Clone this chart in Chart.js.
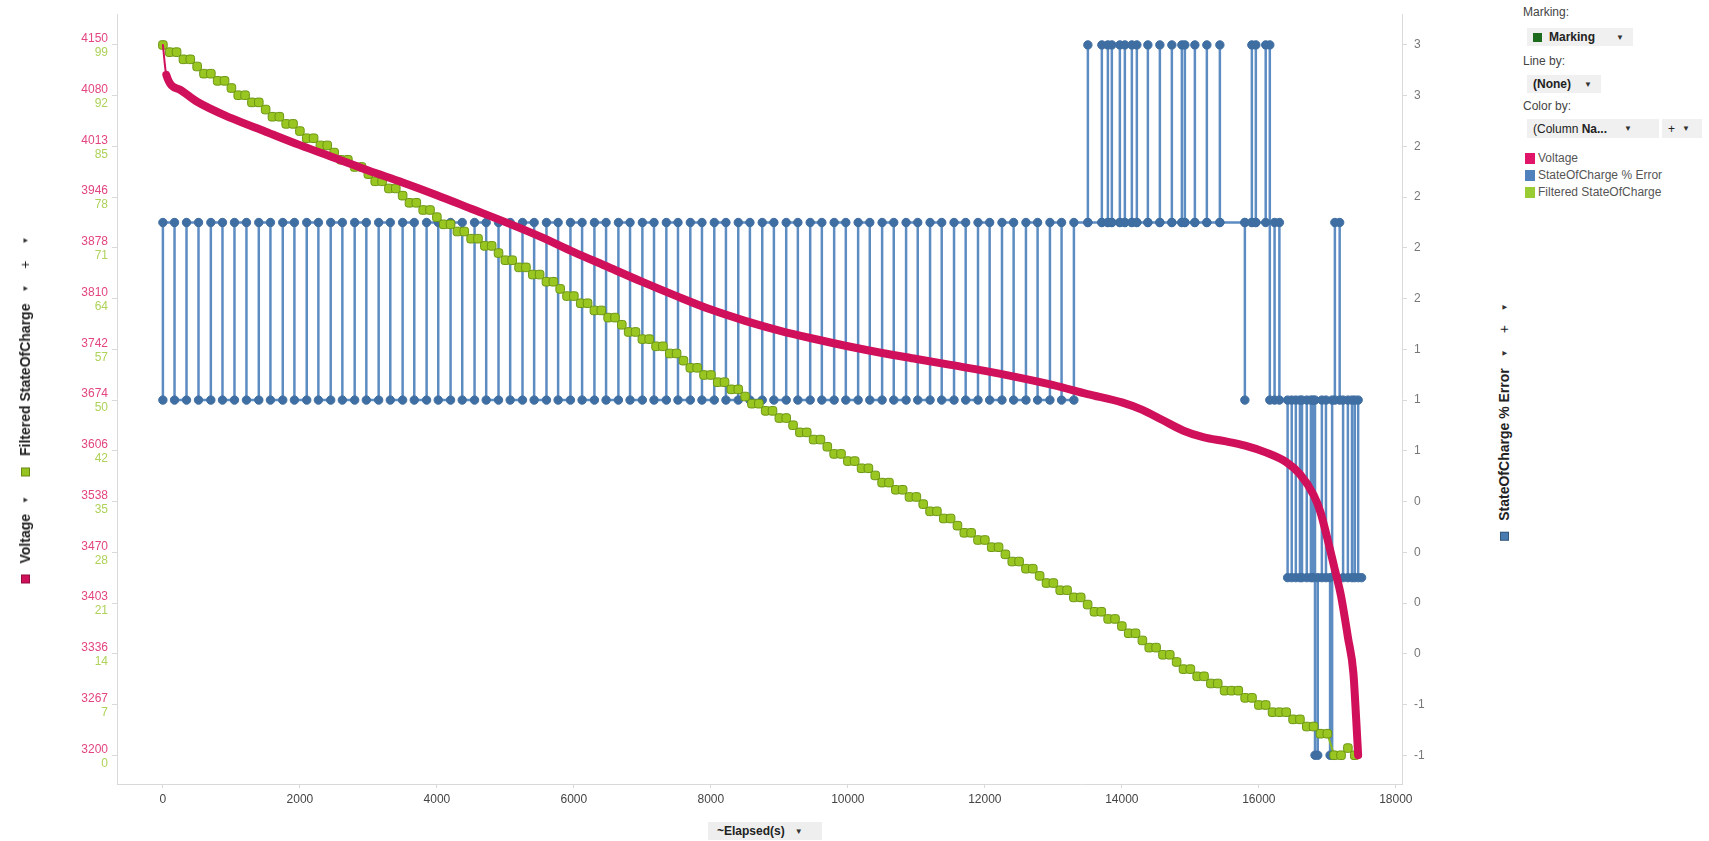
<!DOCTYPE html>
<html>
<head>
<meta charset="utf-8">
<script src="https://cdn.jsdelivr.net/npm/chart.js@4.4.1/dist/chart.umd.min.js"></script>
<style>
  html, body { margin: 0; padding: 0; background: #fff; width: 1709px; height: 841px; overflow: hidden;
    font-family: "Liberation Sans", Arial, sans-serif; }
  #wrap { position: absolute; left: 0; top: 0; width: 1460px; height: 841px; }
  .vlabel { position: absolute; transform: translate(-50%, -50%) rotate(-90deg); white-space: nowrap;
    font-size: 14px; font-weight: bold; color: #222; display: flex; align-items: center; }
  .vlabel > span { margin-right: 11px; }
  .sq { display: inline-block; width: 9px; height: 9px; box-sizing: border-box; border: 1px solid rgba(0,0,0,0.3); }
  .arr { font-size: 8px; font-weight: normal; color: #333; }
  .ptext { position: absolute; font-size: 12px; color: #444; }
  .btn { position: absolute; background: #f0f0f0; font-size: 12px; color: #222; display: flex;
    align-items: center; gap: 7px; padding-left: 6px; box-sizing: border-box; }
  .leg { position: absolute; left: 1525px; font-size: 12px; color: #555; display: flex; align-items: center; gap: 3px; }
  .leg .sq { width: 10px; height: 11px; border: none; }
  #xtitle { position: absolute; left: 708px; top: 822px; width: 114px; height: 18px; background: #eeeeee;
    font-size: 12px; font-weight: bold; color: #222; display: flex; align-items: center; gap: 10px;
    padding-left: 9px; box-sizing: border-box; }
</style>
</head>
<body>
<div id="wrap"><canvas id="chart"></canvas></div>

<div class="vlabel" style="left:25px; top:410px;">
  <span class="sq" style="background:#d0105a"></span><span style="margin-right:10px">Voltage</span><span class="arr" style="margin-right:20px">▼</span>
  <span class="sq" style="background:#96c31f"></span><span>Filtered StateOfCharge</span><span class="arr" style="margin-right:16px">▼</span>
  <span style="font-weight:normal; margin-right:16px">+</span><span class="arr" style="margin-right:0">▼</span>
</div>
<div class="vlabel" style="left:1504px; top:422px;">
  <span class="sq" style="background:#4a7bb0"></span><span>StateOfCharge % Error</span><span class="arr" style="margin-right:16px">▼</span>
  <span style="font-weight:normal; margin-right:14px">+</span><span class="arr" style="margin-right:0">▼</span>
</div>
<div id="xtitle"><span>~Elapsed(s)</span><span class="arr">▼</span></div>

<div class="ptext" style="left:1523px; top:5px;">Marking:</div>
<div class="btn" style="left:1527px; top:28px; width:106px; height:18px;">
  <span class="sq" style="background:#1d6b1d; border:none"></span><b>Marking</b><span class="arr" style="margin-left:14px">▼</span>
</div>
<div class="ptext" style="left:1523px; top:54px;">Line by:</div>
<div class="btn" style="left:1527px; top:75px; width:74px; height:18px;"><b>(None)</b><span class="arr" style="margin-left:6px">▼</span></div>
<div class="ptext" style="left:1523px; top:99px;">Color by:</div>
<div class="btn" style="left:1527px; top:119px; width:132px; height:19px;">
  <span>(Column <b>Na...</b></span><span class="arr" style="margin-left:10px">▼</span>
</div>
<div class="btn" style="left:1662px; top:119px; width:40px; height:19px;"><span>+</span><span class="arr">▼</span></div>
<div class="leg" style="top:151px;"><span class="sq" style="background:#e0156a"></span>Voltage</div>
<div class="leg" style="top:168px;"><span class="sq" style="background:#4f81bd"></span>StateOfCharge % Error</div>
<div class="leg" style="top:185px;"><span class="sq" style="background:#99cc33"></span>Filtered StateOfCharge</div>

<script>
// axis ticks
const xTicks = [0, 2000, 4000, 6000, 8000, 10000, 12000, 14000, 16000, 18000];
const voltTickLabels = ['4150', '4080', '4013', '3946', '3878', '3810', '3742', '3674', '3606', '3538', '3470', '3403', '3336', '3267', '3200'];
const socTickLabels = ['99', '92', '85', '78', '71', '64', '57', '50', '42', '35', '28', '21', '14', '7', '0'];
const errTickLabels = ['3', '3', '2', '2', '2', '2', '1', '1', '1', '0', '0', '0', '0', '-1', '-1'];

// Voltage
const voltTime = [0, 50, 250, 500, 1000, 1500, 2000, 2500, 3000, 3500, 4000, 4500, 5000, 5500, 6000, 6500, 7000, 7500,
  8000, 8500, 9000, 9500, 10000, 10500, 11000, 11500, 12000, 12500, 13000, 13500, 14000, 14300, 14600, 14900, 15200,
  15500, 15800, 16100, 16400, 16600, 16800, 16900, 17000, 17100, 17200, 17300, 17380, 17420, 17450];
const voltValue = [4150, 4110, 4090, 4074, 4052, 4034, 4016, 3999, 3982, 3966, 3949, 3931, 3913, 3894, 3873, 3853, 3833, 3814,
  3796, 3781, 3768, 3757, 3747, 3738, 3730, 3722, 3714, 3705, 3695, 3683, 3672, 3662, 3648, 3634, 3625,
  3620, 3614, 3605, 3592, 3576, 3548, 3525, 3490, 3452, 3413, 3358, 3310, 3250, 3200];

// Filtered StateOfCharge
const socTime = [0, 100, 200, 300, 400, 500, 600, 700, 800, 900, 1000, 1100, 1200, 1300, 1400, 1500, 1600, 1700, 1800, 1900,
  2000, 2100, 2200, 2300, 2400, 2500, 2600, 2700, 2800, 2900, 3000, 3100, 3200, 3300, 3400, 3500, 3600, 3700, 3800, 3900,
  4000, 4100, 4200, 4300, 4400, 4500, 4600, 4700, 4800, 4900, 5000, 5100, 5200, 5300, 5400, 5500, 5600, 5700, 5800, 5900,
  6000, 6100, 6200, 6300, 6400, 6500, 6600, 6700, 6800, 6900, 7000, 7100, 7200, 7300, 7400, 7500, 7600, 7700, 7800, 7900,
  8000, 8100, 8200, 8300, 8400, 8500, 8600, 8700, 8800, 8900, 9000, 9100, 9200, 9300, 9400, 9500, 9600, 9700, 9800, 9900,
  10000, 10100, 10200, 10300, 10400, 10500, 10600, 10700, 10800, 10900, 11000, 11100, 11200, 11300, 11400, 11500, 11600, 11700, 11800, 11900,
  12000, 12100, 12200, 12300, 12400, 12500, 12600, 12700, 12800, 12900, 13000, 13100, 13200, 13300, 13400, 13500, 13600, 13700, 13800, 13900,
  14000, 14100, 14200, 14300, 14400, 14500, 14600, 14700, 14800, 14900, 15000, 15100, 15200, 15300, 15400, 15500, 15600, 15700, 15800, 15900,
  16000, 16100, 16200, 16300, 16400, 16500, 16600, 16700, 16800, 16900, 17000, 17100, 17200, 17300, 17400];
const socValue = [99, 98, 98, 97, 97, 96, 95, 95, 94, 94, 93, 92, 92, 91, 91, 90, 89, 89, 88, 88,
  87, 86, 86, 85, 85, 84, 83, 83, 82, 82, 81, 80, 80, 79, 79, 78, 77, 77, 76, 76,
  75, 74, 74, 73, 73, 72, 72, 71, 71, 70, 69, 69, 68, 68, 67, 67, 66, 66, 65, 64,
  64, 63, 63, 62, 62, 61, 61, 60, 59, 59, 58, 58, 57, 57, 56, 56, 55, 54, 54, 53,
  53, 52, 52, 51, 51, 50, 49, 49, 48, 48, 47, 47, 46, 45, 45, 44, 44, 43, 42, 42,
  41, 41, 40, 40, 39, 38, 38, 37, 37, 36, 36, 35, 34, 34, 33, 33, 32, 31, 31, 30,
  30, 29, 29, 28, 27, 27, 26, 26, 25, 24, 24, 23, 23, 22, 22, 21, 20, 20, 19, 19,
  18, 17, 17, 16, 15, 15, 14, 14, 13, 12, 12, 11, 11, 10, 10, 9, 9, 9, 8, 8,
  7, 7, 6, 6, 6, 5, 5, 4, 4, 3, 3, 0, 0, 1, 0];

// StateOfCharge % Error
const errTime = [0, 0, 170, 170, 345, 345, 520, 520, 700, 700, 870, 870, 1045, 1045, 1220, 1220, 1400, 1400, 1570, 1570,
  1750, 1750, 1920, 1920, 2100, 2100, 2270, 2270, 2450, 2450, 2620, 2620, 2800, 2800, 2970, 2970, 3150, 3150, 3320, 3320,
  3500, 3500, 3670, 3670, 3850, 3850, 4020, 4020, 4200, 4200, 4370, 4370, 4550, 4550, 4720, 4720, 4900, 4900, 5070, 5070,
  5250, 5250, 5420, 5420, 5600, 5600, 5770, 5770, 5950, 5950, 6120, 6120, 6300, 6300, 6470, 6470, 6650, 6650, 6820, 6820,
  7000, 7000, 7170, 7170, 7350, 7350, 7520, 7520, 7700, 7700, 7870, 7870, 8050, 8050, 8220, 8220, 8400, 8400, 8570, 8570,
  8750, 8750, 8920, 8920, 9100, 9100, 9270, 9270, 9450, 9450, 9620, 9620, 9800, 9800, 9970, 9970, 10150, 10150, 10320, 10320,
  10500, 10500, 10670, 10670, 10850, 10850, 11020, 11020, 11200, 11200, 11370, 11370, 11550, 11550, 11720, 11720, 11900, 11900, 12070, 12070,
  12250, 12250, 12420, 12420, 12600, 12600, 12770, 12770, 12950, 12950, 13120, 13120, 13300, 13300,
  13504, 13504, 13504, 13708, 13708, 13708, 13796, 13796, 13796, 13854, 13854, 13854, 13971, 13971, 13971,
  14044, 14044, 14044, 14146, 14146, 14146, 14219, 14219, 14219, 14380, 14380, 14380, 14555, 14555, 14555,
  14730, 14730, 14730, 14876, 14876, 14876, 14920, 14920, 14920, 15066, 15066, 15066, 15241, 15241, 15241,
  15431, 15431, 15431, 15796, 15796, 15796, 15898, 15898, 15898, 15956, 15956, 15956,
  16100, 16100, 16160, 16160, 16230, 16230, 16300, 16300,
  16420, 16420, 16480, 16480, 16540, 16540, 16600, 16600, 16630, 16630, 16700, 16700, 16760, 16760, 16790, 16790,
  16820, 16820, 16860, 16860, 16920, 16920, 16980, 16980, 17040, 17040, 17070, 17070, 17110, 17110, 17180, 17180,
  17230, 17230, 17300, 17300, 17360, 17360, 17400, 17400, 17450, 17450, 17500];
const errValue = [1, 2, 2, 1, 1, 2, 2, 1, 1, 2, 2, 1, 1, 2, 2, 1, 1, 2, 2, 1,
  1, 2, 2, 1, 1, 2, 2, 1, 1, 2, 2, 1, 1, 2, 2, 1, 1, 2, 2, 1,
  1, 2, 2, 1, 1, 2, 2, 1, 1, 2, 2, 1, 1, 2, 2, 1, 1, 2, 2, 1,
  1, 2, 2, 1, 1, 2, 2, 1, 1, 2, 2, 1, 1, 2, 2, 1, 1, 2, 2, 1,
  1, 2, 2, 1, 1, 2, 2, 1, 1, 2, 2, 1, 1, 2, 2, 1, 1, 2, 2, 1,
  1, 2, 2, 1, 1, 2, 2, 1, 1, 2, 2, 1, 1, 2, 2, 1, 1, 2, 2, 1,
  1, 2, 2, 1, 1, 2, 2, 1, 1, 2, 2, 1, 1, 2, 2, 1, 1, 2, 2, 1,
  1, 2, 2, 1, 1, 2, 2, 1, 1, 2, 2, 1, 1, 2,
  2, 3, 2, 2, 3, 2, 2, 3, 2, 2, 3, 2, 2, 3, 2,
  2, 3, 2, 2, 3, 2, 2, 3, 2, 2, 3, 2, 2, 3, 2,
  2, 3, 2, 2, 3, 2, 2, 3, 2, 2, 3, 2, 2, 3, 2,
  2, 3, 2, 2, 1, 2, 2, 3, 2, 2, 3, 2,
  2, 3, 3, 1, 1, 2, 2, 1,
  1, 0, 0, 1, 1, 0, 0, 1, 1, 0, 0, 1, 1, 0, 0, 1,
  1, -1, -1, 0, 0, 1, 1, 0, 0, -1, -1, 1, 1, 2, 2, 1,
  1, 0, 0, 1, 1, 0, 0, 1, 1, 0, 0];

function points(xs, ys) {
  return xs.map((x, i) => ({ x: x, y: ys[i] }));
}

Chart.defaults.font.family = '"Liberation Sans", Arial, sans-serif';
Chart.defaults.font.size = 12;

// green SOC labels sit under the voltage labels on the same ticks
const socTickPlugin = {
  id: 'socTicks',
  afterDraw(chart) {
    const s = chart.scales.yV;
    const ctx = chart.ctx;
    ctx.save();
    ctx.font = '12px "Liberation Sans", Arial, sans-serif';
    ctx.fillStyle = '#aed25a';
    ctx.textAlign = 'right';
    ctx.textBaseline = 'middle';
    s.ticks.forEach((t, i) => {
      ctx.fillText(socTickLabels[i], s.right - 9, s.getPixelForValue(t.value) + 8);
    });
    ctx.restore();
  }
};

const axisGrey = '#d9d9d9';

new Chart(document.getElementById('chart').getContext('2d'), {
  type: 'line',
  data: {
    datasets: [{
      label: 'Voltage',
      data: points(voltTime, voltValue),
      yAxisID: 'yV',
      borderColor: '#d0105a',
      borderWidth: 8,
      borderCapStyle: 'round',
      borderJoinStyle: 'round',
      cubicInterpolationMode: 'monotone',
      pointRadius: 0,
      segment: {
        borderWidth: c => c.p0DataIndex === 0 ? 2 : undefined
      }
    }, {
      label: 'Filtered StateOfCharge',
      data: points(socTime, socValue),
      yAxisID: 'ySoc',
      borderColor: '#8cbc1c',
      borderWidth: 2,
      pointStyle: 'rectRounded',
      pointRadius: 5,
      pointBackgroundColor: '#9ac622',
      pointBorderColor: '#6c9714',
      pointBorderWidth: 1
    }, {
      label: 'StateOfCharge % Error',
      data: points(errTime, errValue),
      yAxisID: 'yErr',
      borderColor: '#5d8cc2',
      borderWidth: 2.5,
      pointRadius: 4.2,
      pointBackgroundColor: '#3f6ea2',
      pointBorderColor: '#3f6ea2',
      pointBorderWidth: 1
    }]
  },
  options: {
    animation: false,
    responsive: true,
    maintainAspectRatio: false,
    devicePixelRatio: 1,
    layout: { padding: { top: 8, left: 0, right: 0, bottom: 0 } },
    plugins: {
      legend: { display: false },
      tooltip: { enabled: false }
    },
    scales: {
      x: {
        type: 'linear',
        position: 'bottom',
        min: -670,
        max: 18090,
        afterBuildTicks: s => { s.ticks = xTicks.map(v => ({ value: v })); },
        afterFit: s => { s.height = 57; },
        ticks: { color: '#444', padding: 4, maxRotation: 0, autoSkip: false, callback: v => String(v) },
        grid: { drawOnChartArea: false, tickLength: 4, color: axisGrey },
        border: { color: axisGrey }
      },
      yV: {
        type: 'linear',
        position: 'left',
        min: 3161.5,
        max: 4191.1,
        afterBuildTicks: s => { s.ticks = voltTickLabels.map((l, i) => ({ value: 4150 - i * 950 / 14 })); },
        afterFit: s => { s.width = 117; },
        ticks: {
          color: '#e2457f', padding: 4, labelOffset: -6, autoSkip: false,
          callback: (v, i) => voltTickLabels[i]
        },
        grid: { drawOnChartArea: false, tickLength: 5, color: axisGrey },
        border: { color: axisGrey }
      },
      ySoc: {
        type: 'linear',
        display: false,
        min: -4.01,
        max: 103.29
      },
      yErr: {
        type: 'linear',
        position: 'right',
        min: -1.162,
        max: 3.173,
        afterBuildTicks: s => { s.ticks = errTickLabels.map((l, i) => ({ value: 3 - i * 4 / 14 })); },
        afterFit: s => { s.width = 58; },
        ticks: {
          color: '#777', padding: 7, autoSkip: false,
          callback: (v, i) => errTickLabels[i]
        },
        grid: { drawOnChartArea: false, tickLength: 5, color: axisGrey },
        border: { color: axisGrey }
      }
    }
  },
  plugins: [socTickPlugin]
});
</script>
</body>
</html>
